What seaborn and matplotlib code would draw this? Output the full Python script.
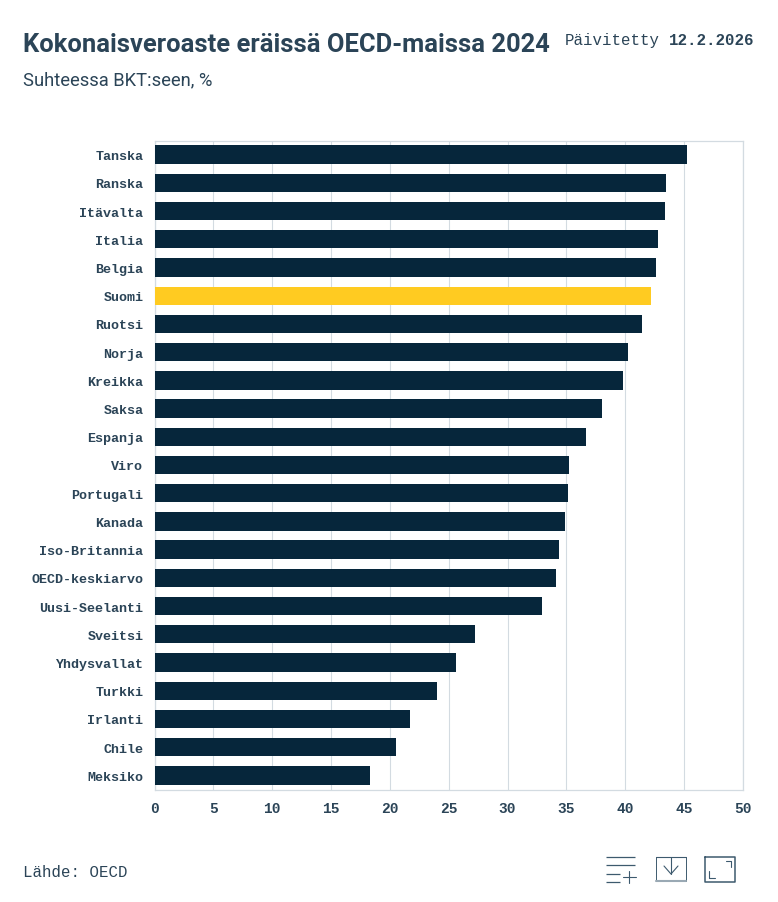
import matplotlib
matplotlib.use("Agg")
import matplotlib.pyplot as plt
import pandas as pd
import seaborn as sns

# Data
COUNTRIES = [
    "Tanska", "Ranska", "Itävalta", "Italia", "Belgia", "Suomi", "Ruotsi", "Norja",
    "Kreikka", "Saksa", "Espanja", "Viro", "Portugali", "Kanada", "Iso-Britannia",
    "OECD-keskiarvo", "Uusi-Seelanti", "Sveitsi", "Yhdysvallat", "Turkki", "Irlanti",
    "Chile", "Meksiko",
]
VALUES = [
    45.2, 43.5, 43.4, 42.8, 42.6, 42.2, 41.4, 40.2, 39.8, 38.0, 36.7, 35.2, 35.1,
    34.9, 34.4, 34.1, 32.9, 27.2, 25.6, 24.0, 21.7, 20.5, 18.3,
]
HIGHLIGHT = "Suomi"
X_TICKS = [0, 5, 10, 15, 20, 25, 30, 35, 40, 45, 50]

# Figure settings
W, H = 778, 903
NAVY = "#06263b"
YELLOW = "#ffcb21"
TEXT = "#2b4457"
GRID = "#d3dbe1"
MONO = "Liberation Mono"
SANS = "Roboto"


def px(size):
    """Font size in points for a size given in pixels at dpi 100."""
    return size * 0.72


def draw_icons(fig):
    # Overlay in pixel coordinates for the toolbar icons at the bottom right
    ov = fig.add_axes([0, 0, 1, 1], facecolor="none")
    ov.set_xlim(0, W)
    ov.set_ylim(H, 0)
    ov.axis("off")
    c = "#3d5a6e"
    # list-plus icon
    for x0, x1, y in [(606, 635, 858), (606, 635, 866), (606, 620, 875), (606, 620, 883)]:
        ov.plot([x0, x1], [y, y], color=c, lw=0.9, solid_capstyle="butt")
    ov.plot([623, 636], [878, 878], color=c, lw=0.8)
    ov.plot([629.5, 629.5], [872, 884], color=c, lw=0.8)
    # download icon
    ov.plot([656, 656], [858, 882], color=c, lw=0.7)
    ov.plot([686, 686], [858, 882], color=c, lw=0.7)
    ov.plot([656, 686], [882.5, 882.5], color="#9aa9b4", lw=1.5)
    ov.plot([656, 686], [858, 858], color=c, lw=0.8)
    ov.plot([671, 671], [858, 875], color=c, lw=0.8)
    ov.plot([664, 671, 678], [867, 875, 867], color=c, lw=0.8)
    # fullscreen icon
    ov.plot([705, 735, 735, 705, 705], [858, 858, 883, 883, 858], color=c, lw=1.1)
    ov.plot([726, 731, 731], [862, 862, 868], color=c, lw=0.8)
    ov.plot([709, 709, 715], [872, 879, 879], color=c, lw=0.8)


def main():
    sns.set_theme(style="white")
    df = pd.DataFrame({"maa": COUNTRIES, "arvo": VALUES})
    df["korostus"] = df["maa"].eq(HIGHLIGHT).map({True: "k", False: "m"})

    fig = plt.figure(figsize=(W / 100, H / 100), dpi=100, facecolor="white")
    ax = fig.add_axes([154.5 / W, 1 - 790.5 / H, (743 - 154.5) / W, (790.5 - 141.5) / H])

    sns.barplot(
        data=df, x="arvo", y="maa", hue="korostus", palette={"m": NAVY, "k": YELLOW},
        dodge=False, legend=False, width=0.65, ax=ax, zorder=3, saturation=1,
        linewidth=0,
    )

    ax.set_xlim(0, 50)
    ax.set_ylim(len(COUNTRIES) - 0.5, -0.5)
    ax.set_xlabel("")
    ax.set_ylabel("")
    ax.set_xticks(X_TICKS)
    ax.grid(axis="x", color=GRID, lw=0.8)
    ax.grid(axis="y", visible=False)
    ax.set_axisbelow(True)
    for spine in ax.spines.values():
        spine.set_color(GRID)
        spine.set_linewidth(0.9)
    ax.tick_params(axis="x", length=0, pad=8, labelsize=px(14.5), labelcolor=TEXT)
    ax.tick_params(axis="y", length=0, pad=8, labelsize=px(13.4), labelcolor=TEXT)
    for lab in ax.get_xticklabels():
        lab.set_family(MONO)
        lab.set_weight("bold")
    for lab in ax.get_yticklabels():
        lab.set_family(MONO)
        lab.set_weight("bold")

    def put(x, y, s, **kw):
        fig.text(x / W, 1 - y / H, s, va="baseline", color=TEXT, **kw)

    put(23, 52, "Kokonaisveroaste eräissä OECD-maissa 2024", family=SANS, weight="bold", fontsize=px(25.5))
    put(565, 45, "Päivitetty", family=MONO, fontsize=px(15.8))
    put(669, 45, "12.2.2026", family=MONO, weight="bold", fontsize=px(15.8))
    put(23, 85, "Suhteessa BKT:seen, %", family=SANS, fontsize=px(18.4))
    put(23, 877, "Lähde: OECD", family=MONO, fontsize=px(15.8))

    draw_icons(fig)
    fig.savefig("out.png", dpi=100)


if __name__ == "__main__":
    main()
